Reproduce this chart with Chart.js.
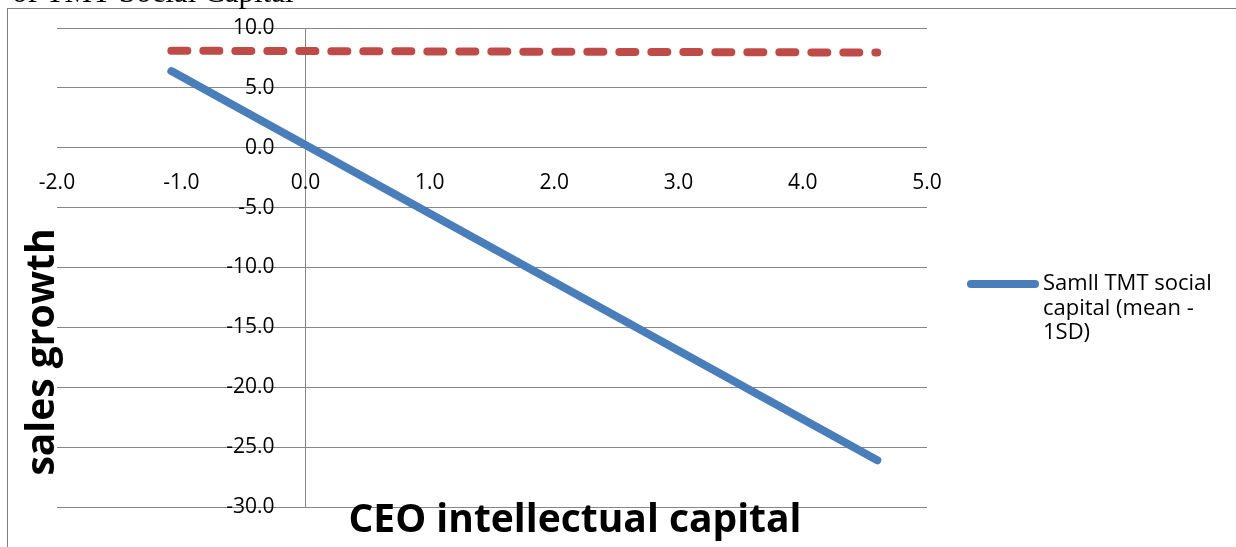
<!DOCTYPE html>
<html>
<head>
<meta charset="utf-8">
<title>sales growth vs CEO intellectual capital</title>
<script src="https://cdn.jsdelivr.net/npm/chart.js@4/dist/chart.umd.min.js"></script>
<style>
  html, body { margin: 0; padding: 0; background: #fff; overflow: hidden; }
  canvas { display: block; }
</style>
</head>
<body>
<canvas id="chart" width="1236" height="547"></canvas>
<script>
// values
const xValues = [-1.08, 4.6];
const smallTmt = [6.4, -26.1];
const largeTmt = [8.1, 7.95];
const seriesLabels = ["Samll TMT social capital (mean - 1SD)", "Large TMT social capital (mean + 1SD)"];
const legendSeries = [0]; // only the blue series shows in the legend
const xTicks = [-2, -1, 0, 1, 2, 3, 4, 5];
const yTicks = [-30, -25, -20, -15, -10, -5, 0, 5, 10];
const xTitle = "CEO intellectual capital";
const yTitle = "sales growth";
const captionText = "of TMT Social Capital";

const gridColor = "#878787";
const tickFont = { family: "'Open Sans'", size: 21 };

function points(ys) {
  return xValues.map((x, i) => ({ x: x, y: ys[i] }));
}

function wrapText(ctx, text, maxWidth) {
  const words = text.split(" ");
  const lines = [];
  let line = "";
  words.forEach(w => {
    const test = line ? line + " " + w : w;
    if (line && ctx.measureText(test).width > maxWidth) {
      lines.push(line);
      line = w;
    } else {
      line = test;
    }
  });
  if (line) lines.push(line);
  return lines;
}

const decorations = {
  id: "decorations",
  beforeDraw(chart) {
    const ctx = chart.ctx;
    ctx.save();
    ctx.strokeStyle = "#7f7f7f";
    ctx.lineWidth = 1;
    ctx.strokeRect(7.5, 8.5, 1400, 800);
    ctx.restore();
  },
  afterDraw(chart) {
    const ctx = chart.ctx;
    ctx.save();
    // caption cut off at the top
    ctx.fillStyle = "#000";
    ctx.font = "31px 'Liberation Serif'";
    ctx.textBaseline = "alphabetic";
    ctx.fillText(captionText, 12, 2);

    // axis titles
    ctx.font = "bold 39px 'Open Sans'";
    ctx.textAlign = "center";
    ctx.fillText(xTitle, 575, 532);
    ctx.save();
    ctx.translate(54, 352);
    ctx.rotate(-Math.PI / 2);
    ctx.fillText(yTitle, 0, 0);
    ctx.restore();

    // legend on the right
    let y = 284;
    legendSeries.forEach(i => {
      const ds = chart.data.datasets[i];
      ctx.strokeStyle = ds.borderColor;
      ctx.lineWidth = 8;
      ctx.lineCap = "round";
      ctx.beginPath();
      ctx.moveTo(971, y);
      ctx.lineTo(1035, y);
      ctx.stroke();
      ctx.font = "22px 'Open Sans'";
      ctx.textAlign = "left";
      ctx.textBaseline = "middle";
      const lines = wrapText(ctx, ds.label, 185);
      lines.forEach((ln, k) => ctx.fillText(ln, 1043, y + k * 24.5));
      y += lines.length * 24.5 + 10;
    });
    ctx.restore();
  }
};

new Chart(document.getElementById("chart"), {
  type: "scatter",
  data: {
    datasets: [
      {
        label: seriesLabels[0],
        data: points(smallTmt),
        showLine: true,
        borderColor: "#4a7ebb",
        borderWidth: 8,
        borderCapStyle: "round",
        pointRadius: 0,
      },
      {
        label: seriesLabels[1],
        data: points(largeTmt),
        showLine: true,
        borderColor: "#be4b48",
        borderWidth: 8,
        borderCapStyle: "round",
        borderDash: [16, 16],
        pointRadius: 0,
      },
    ],
  },
  options: {
    responsive: false,
    animation: false,
    events: [],
    layout: { padding: { left: 57, top: 28, right: 309, bottom: 40 } },
    plugins: {
      legend: { display: false },
      tooltip: { enabled: false },
    },
    scales: {
      x: {
        type: "linear",
        min: -2,
        max: 5,
        position: { y: 0 },
        afterBuildTicks: s => { s.ticks = xTicks.map(v => ({ value: v })); },
        ticks: {
          font: tickFont,
          color: "#000",
          padding: 23,
          autoSkip: false,
          maxRotation: 0,
          callback: v => Number(v).toFixed(1),
        },
        grid: {
          drawTicks: false,
          color: c => (c.tick && c.tick.value === 0 ? gridColor : "rgba(0,0,0,0)"),
        },
        border: { display: false },
      },
      y: {
        type: "linear",
        min: -30,
        max: 10,
        position: { x: -0.25 },
        afterBuildTicks: s => { s.ticks = yTicks.map(v => ({ value: v })); },
        ticks: {
          font: tickFont,
          color: "#000",
          padding: 0,
          autoSkip: false,
          callback: v => Number(v).toFixed(1),
        },
        grid: { drawTicks: false, color: gridColor },
        border: { display: false },
      },
    },
  },
  plugins: [decorations],
});
</script>
</body>
</html>
